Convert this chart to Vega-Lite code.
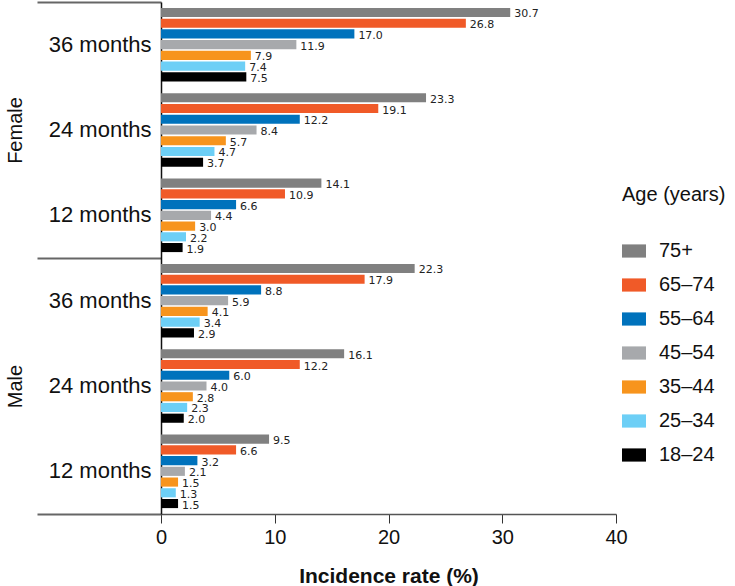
{
  "$schema": "https://vega.github.io/schema/vega-lite/v6.json",
  "width": 455,
  "height": 512,
  "padding": {"left": 5, "top": 1, "right": 0, "bottom": 0},
  "autosize": {"type": "pad"},
  "config": {
    "view": {"stroke": null},
    "font": "Liberation Sans",
    "axis": {"grid": false, "labelColor": "#111", "titleColor": "#111"}
  },
  "data": {
    "values": [
      {"sex": "Female", "period": "36 months", "age": "75+", "rate": 30.7},
      {"sex": "Female", "period": "36 months", "age": "65–74", "rate": 26.8},
      {"sex": "Female", "period": "36 months", "age": "55–64", "rate": 17.0},
      {"sex": "Female", "period": "36 months", "age": "45–54", "rate": 11.9},
      {"sex": "Female", "period": "36 months", "age": "35–44", "rate": 7.9},
      {"sex": "Female", "period": "36 months", "age": "25–34", "rate": 7.4},
      {"sex": "Female", "period": "36 months", "age": "18–24", "rate": 7.5},
      {"sex": "Female", "period": "24 months", "age": "75+", "rate": 23.3},
      {"sex": "Female", "period": "24 months", "age": "65–74", "rate": 19.1},
      {"sex": "Female", "period": "24 months", "age": "55–64", "rate": 12.2},
      {"sex": "Female", "period": "24 months", "age": "45–54", "rate": 8.4},
      {"sex": "Female", "period": "24 months", "age": "35–44", "rate": 5.7},
      {"sex": "Female", "period": "24 months", "age": "25–34", "rate": 4.7},
      {"sex": "Female", "period": "24 months", "age": "18–24", "rate": 3.7},
      {"sex": "Female", "period": "12 months", "age": "75+", "rate": 14.1},
      {"sex": "Female", "period": "12 months", "age": "65–74", "rate": 10.9},
      {"sex": "Female", "period": "12 months", "age": "55–64", "rate": 6.6},
      {"sex": "Female", "period": "12 months", "age": "45–54", "rate": 4.4},
      {"sex": "Female", "period": "12 months", "age": "35–44", "rate": 3.0},
      {"sex": "Female", "period": "12 months", "age": "25–34", "rate": 2.2},
      {"sex": "Female", "period": "12 months", "age": "18–24", "rate": 1.9},
      {"sex": "Male", "period": "36 months", "age": "75+", "rate": 22.3},
      {"sex": "Male", "period": "36 months", "age": "65–74", "rate": 17.9},
      {"sex": "Male", "period": "36 months", "age": "55–64", "rate": 8.8},
      {"sex": "Male", "period": "36 months", "age": "45–54", "rate": 5.9},
      {"sex": "Male", "period": "36 months", "age": "35–44", "rate": 4.1},
      {"sex": "Male", "period": "36 months", "age": "25–34", "rate": 3.4},
      {"sex": "Male", "period": "36 months", "age": "18–24", "rate": 2.9},
      {"sex": "Male", "period": "24 months", "age": "75+", "rate": 16.1},
      {"sex": "Male", "period": "24 months", "age": "65–74", "rate": 12.2},
      {"sex": "Male", "period": "24 months", "age": "55–64", "rate": 6.0},
      {"sex": "Male", "period": "24 months", "age": "45–54", "rate": 4.0},
      {"sex": "Male", "period": "24 months", "age": "35–44", "rate": 2.8},
      {"sex": "Male", "period": "24 months", "age": "25–34", "rate": 2.3},
      {"sex": "Male", "period": "24 months", "age": "18–24", "rate": 2.0},
      {"sex": "Male", "period": "12 months", "age": "75+", "rate": 9.5},
      {"sex": "Male", "period": "12 months", "age": "65–74", "rate": 6.6},
      {"sex": "Male", "period": "12 months", "age": "55–64", "rate": 3.2},
      {"sex": "Male", "period": "12 months", "age": "45–54", "rate": 2.1},
      {"sex": "Male", "period": "12 months", "age": "35–44", "rate": 1.5},
      {"sex": "Male", "period": "12 months", "age": "25–34", "rate": 1.3},
      {"sex": "Male", "period": "12 months", "age": "18–24", "rate": 1.5}
    ]
  },
  "transform": [{"calculate": "datum.sex + '|' + datum.period", "as": "grp"}],
  "layer": [
    {
      "mark": {"type": "bar", "opacity": 0},
      "encoding": {
        "y": {
          "field": "sex", "type": "nominal",
          "scale": {"domain": ["Female", "Male"], "paddingInner": 0, "paddingOuter": 0},
          "axis": {
            "orient": "left", "title": null, "domain": false,
            "tickBand": "extent", "tickSize": 124, "tickColor": "#666", "tickWidth": 2,
            "labelAngle": -90, "labelFontSize": 20, "labelPadding": 12, "labelColor": "#111"
          }
        }
      }
    },
    {
      "encoding": {
        "y": {
          "field": "grp", "type": "nominal",
          "scale": {
            "domain": ["Female|36 months", "Female|24 months", "Female|12 months", "Male|36 months", "Male|24 months", "Male|12 months"],
            "paddingInner": 0, "paddingOuter": 0
          },
          "axis": {
            "orient": "left", "title": null, "ticks": false,
            "domainColor": "#111", "domainWidth": 1.5,
            "labelExpr": "split(datum.label, '|')[1]",
            "labelFontSize": 22, "labelPadding": 10
          }
        },
        "yOffset": {
          "field": "age", "type": "nominal",
          "scale": {"domain": ["75+", "65–74", "55–64", "45–54", "35–44", "25–34", "18–24"], "paddingInner": 0.15, "paddingOuter": 0.55}
        },
        "x": {
          "field": "rate", "type": "quantitative",
          "scale": {"domain": [0, 40]},
          "axis": {
            "values": [0, 10, 20, 30, 40], "tickSize": 9, "tickColor": "#333", "domainColor": "#555", "domainWidth": 1.5,
            "labelFontSize": 20, "labelPadding": 4, "labelFlush": false,
            "title": "Incidence rate (%)", "titleFontSize": 21, "titleFontWeight": "bold", "titlePadding": 18
          }
        }
      },
      "layer": [
        {
          "mark": {"type": "bar"},
          "encoding": {
            "color": {
              "field": "age", "type": "nominal",
              "scale": {
                "domain": ["75+", "65–74", "55–64", "45–54", "35–44", "25–34", "18–24"],
                "range": ["#808080", "#F05A28", "#0072BC", "#A7A9AC", "#F7941D", "#6DCFF6", "#000000"]
              },
              "legend": {
                "title": "Age (years)", "orient": "none", "legendX": 461, "legendY": 183,
                "titleFontSize": 20, "titleFontWeight": "normal", "titleColor": "#111", "titlePadding": 34,
                "labelFontSize": 20, "labelColor": "#111", "labelOffset": 13,
                "symbolType": "M-1,-0.55H1V0.55H-1Z", "symbolSize": 576, "symbolStrokeWidth": 0,
                "rowPadding": 12
              }
            }
          }
        },
        {
          "mark": {"type": "text", "align": "left", "baseline": "middle", "dx": 4, "dy": 2, "font": "DejaVu Sans", "fontSize": 11, "color": "#222"},
          "encoding": {
            "text": {"field": "rate", "type": "quantitative", "format": ".1f"}
          }
        }
      ]
    }
  ],
  "resolve": {"scale": {"y": "independent"}, "axis": {"y": "independent"}}
}
